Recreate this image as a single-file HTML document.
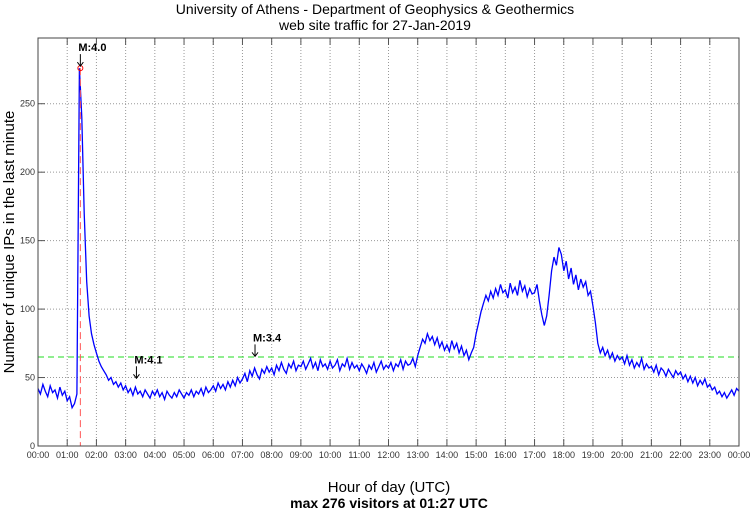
<!DOCTYPE html>
<html><head><meta charset="utf-8">
<style>
html,body{margin:0;padding:0;background:#fff;}
svg{display:block;font-family:"Liberation Sans",sans-serif;}
</style></head>
<body>
<svg id="chart" width="750" height="511" viewBox="0 0 750 511">
<text x="375" y="14" text-anchor="middle" font-size="14">University of Athens - Department of Geophysics &amp; Geothermics</text>
<text x="375" y="30" text-anchor="middle" font-size="14">web site traffic for 27-Jan-2019</text>
<text transform="translate(14,242) rotate(-90)" text-anchor="middle" font-size="15">Number of unique IPs in the last minute</text>
<text x="389" y="492" text-anchor="middle" font-size="15">Hour of day (UTC)</text>
<text x="389" y="508" text-anchor="middle" font-size="14" font-weight="bold">max 276 visitors at 01:27 UTC</text>
<g id="grid"></g>
<g id="marks"></g>
<g id="axes"></g>
</svg>
<script>
const hourTicks = ["00:00","01:00","02:00","03:00","04:00","05:00","06:00","07:00","08:00","09:00","10:00","11:00","12:00","13:00","14:00","15:00","16:00","17:00","18:00","19:00","20:00","21:00","22:00","23:00","00:00"];
const yTicks = [0,50,100,150,200,250];
const visitors = [
42,38,45,40,36,44,39,41,35,43,37,40,
33,36,28,31,38,276,240,170,120,95,82,74,
68,62,58,55,52,48,50,45,47,43,46,41,
44,39,42,37,43,38,40,36,41,38,35,40,
37,41,36,39,34,40,37,35,39,36,41,38,
35,39,37,41,36,40,38,42,37,43,39,41,
44,40,46,42,45,41,47,43,48,44,50,46,
49,53,47,55,51,57,52,49,56,53,58,54,
57,52,59,55,61,56,53,60,57,62,55,59,
58,62,56,60,64,57,61,55,63,58,60,56,
62,57,59,63,55,60,58,64,56,61,57,59,
55,60,57,53,59,56,61,54,58,62,56,59,
57,61,55,60,58,63,56,62,59,60,64,58,
66,72,78,75,82,77,80,74,79,72,76,70,
74,69,77,71,75,68,73,66,70,63,68,72,
82,90,98,104,110,106,113,108,115,110,118,112,
114,108,119,112,116,110,121,113,117,109,115,111,
112,118,106,96,88,95,110,128,138,132,145,140,
128,135,122,130,118,125,114,122,116,120,110,113,
102,90,75,68,72,66,70,64,68,62,66,63,
65,60,66,59,63,57,61,58,64,56,60,57,
58,54,59,52,57,55,51,56,53,50,55,52,
54,49,52,47,51,46,50,44,48,45,49,43,
45,41,43,38,40,36,39,35,38,41,37,42,
40];
const stepMinutes = [5];
const referenceLevel = [65];
const quakeLabels = ["M:4.0","M:4.1","M:3.4"];
const quakeHours = [1.45,3.37,7.43];
const quakeValues = [276,48,64];

const L=38,R=739,T=38,B=446,YMAX=298;
const xs=h=>L+(R-L)*h/24;
const ys=v=>B-(B-T)*v/YMAX;
const NS="http://www.w3.org/2000/svg";
function mk(tag,parent){const e=document.createElementNS(NS,tag);parent.appendChild(e);return e;}
const grid=document.getElementById('grid'),marks=document.getElementById('marks'),axes=document.getElementById('axes');

hourTicks.forEach((t,i)=>{
  const x=xs(i);
  if(i>0&&i<24){const g=mk('line',grid);
    
    
    g.setAttribute('x1',x);g.setAttribute('x2',x);g.setAttribute('y1',T);g.setAttribute('y2',B);
    g.setAttribute('stroke','#999');g.setAttribute('stroke-dasharray','1,2');}
  const tk=mk('line',axes);
  
  
  tk.setAttribute('x1',x);tk.setAttribute('x2',x);tk.setAttribute('y1',B);tk.setAttribute('y2',B-7);tk.setAttribute('stroke','#555');
  const tk2=mk('line',axes);
  
  
  tk2.setAttribute('x1',x);tk2.setAttribute('x2',x);tk2.setAttribute('y1',T);tk2.setAttribute('y2',T+7);tk2.setAttribute('stroke','#555');
  const lb=mk('text',axes);
  
  
  lb.setAttribute('x',x);lb.setAttribute('y',B+12);lb.setAttribute('text-anchor','middle');lb.setAttribute('font-size','9');lb.setAttribute('fill','#333');
  lb.textContent=t;
});
yTicks.forEach(v=>{
  const y=ys(v);
  if(v>0){const g=mk('line',grid);
    
    
    g.setAttribute('x1',L);g.setAttribute('x2',R);g.setAttribute('y1',y);g.setAttribute('y2',y);
    g.setAttribute('stroke','#999');g.setAttribute('stroke-dasharray','1,2');}
  const tk=mk('line',axes);
  
  
  tk.setAttribute('x1',L);tk.setAttribute('x2',L+7);tk.setAttribute('y1',y);tk.setAttribute('y2',y);tk.setAttribute('stroke','#555');
  const lb=mk('text',axes);
  
  
  lb.setAttribute('x',L-3);lb.setAttribute('y',y+3);lb.setAttribute('text-anchor','end');lb.setAttribute('font-size','9');lb.setAttribute('fill','#333');
  lb.textContent=v;
});

const ref=mk('line',marks);


ref.setAttribute('x1',L);ref.setAttribute('x2',R);ref.setAttribute('y1',ys(referenceLevel[0]));ref.setAttribute('y2',ys(referenceLevel[0]));
ref.setAttribute('stroke','#22dd22');ref.setAttribute('stroke-dasharray','6,4');

let d='';
visitors.forEach((v,i)=>{const h=i*stepMinutes[0]/60;d+=(i?'L':'M')+xs(h).toFixed(1)+','+ys(v).toFixed(1);});
const p=mk('path',marks);


p.setAttribute('d',d);p.setAttribute('fill','none');p.setAttribute('stroke','#0000ff');p.setAttribute('stroke-width','1.3');

const rv=mk('line',marks);


rv.setAttribute('x1',xs(quakeHours[0]));rv.setAttribute('x2',xs(quakeHours[0]));rv.setAttribute('y1',ys(quakeValues[0]));rv.setAttribute('y2',B);
rv.setAttribute('stroke','#ff5555');rv.setAttribute('stroke-dasharray','7,4');
const mc=mk('circle',marks);


mc.setAttribute('cx',xs(quakeHours[0]));mc.setAttribute('cy',ys(quakeValues[0]));mc.setAttribute('r','2.5');mc.setAttribute('fill','none');mc.setAttribute('stroke','red');

quakeLabels.forEach((t,i)=>{
  const x=xs(quakeHours[i]),y=ys(quakeValues[i]);
  const a=mk('line',marks);
  
  
  a.setAttribute('x1',x);a.setAttribute('x2',x);a.setAttribute('y1',y-14);a.setAttribute('y2',y-2);a.setAttribute('stroke','#000');
  const hd=mk('path',marks);
  
  
  hd.setAttribute('d',`M${x-3},${y-6}L${x},${y-2}L${x+3},${y-6}`);hd.setAttribute('fill','none');hd.setAttribute('stroke','#000');
  const lb=mk('text',marks);
  
  
  lb.setAttribute('x',x-2);lb.setAttribute('y',y-17);lb.setAttribute('font-size','11');lb.setAttribute('font-weight','bold');
  lb.textContent=t;
});

const fr=mk('rect',axes);


fr.setAttribute('x',L);fr.setAttribute('y',T);fr.setAttribute('width',R-L);fr.setAttribute('height',B-T);fr.setAttribute('fill','none');fr.setAttribute('stroke','#444');
</script>
</body></html>
